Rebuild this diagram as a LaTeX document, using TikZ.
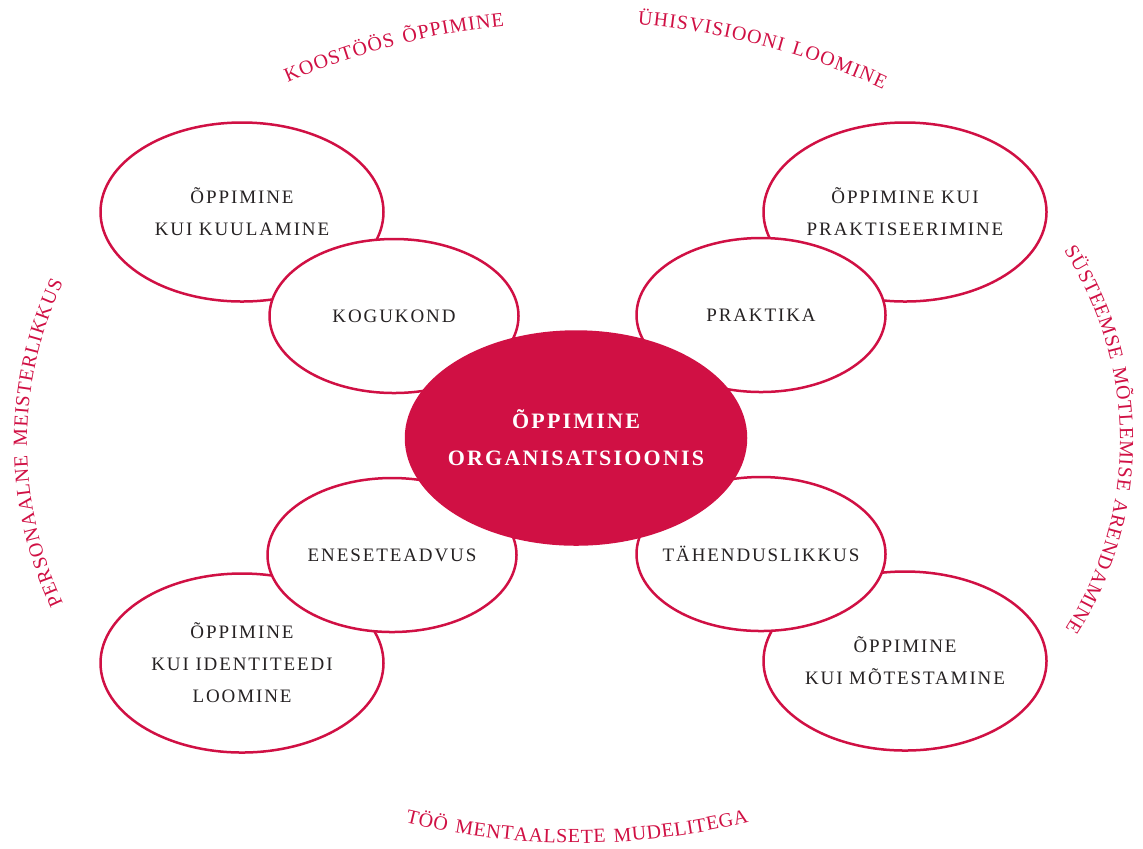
\documentclass[tikz,border=0pt]{standalone}
\usepackage{fontspec}
\setmainfont{Liberation Serif}
\newfontfamily\capsfont[LetterSpace=10]{Liberation Serif}
\usepackage{tikz}
\usetikzlibrary{shapes,decorations.text}
\definecolor{rosso}{RGB}{208,16,68}
\definecolor{ink}{RGB}{38,34,35}

\begin{document}
\begin{tikzpicture}[x=0.5pt, y=0.5pt,
  every node/.style = {ellipse, draw=rosso, line width=1.25pt, fill=white,
    align=center, inner sep=0pt, inner xsep=-10pt, text=ink,
    font=\capsfont\fontsize{9.5}{16}\selectfont},
  outerbubble/.style = {minimum width=141.5pt, minimum height=89.5pt},
  midbubble/.style = {minimum width=124.5pt, minimum height=77pt},
  hub/.style = {fill=rosso, text=white, minimum width=170pt, minimum height=106.5pt,
    font=\capsfont\bfseries\fontsize{11}{18.5}\selectfont},
  arctext/.style = {decorate, decoration={text along path,
    text align={fit to path}, text color=rosso,
    text={|\capsfont\fontsize{10}{12}\selectfont|#1}}}]
  \useasboundingbox (0,0) rectangle (1143,-848);

  % outer ring of bubbles
  \node[outerbubble] (listen) at (242,-212) {ÕPPIMINE\\KUI KUULAMINE};
  \node[outerbubble] (practise) at (905,-212) {ÕPPIMINE KUI\\PRAKTISEERIMINE};
  \node[outerbubble] (identity) at (242,-663) {ÕPPIMINE\\KUI IDENTITEEDI\\LOOMINE};
  \node[outerbubble] (sense) at (905,-661) {ÕPPIMINE\\KUI MÕTESTAMINE};

  % inner ring
  \node[midbubble] (community) at (394,-316) {KOGUKOND};
  \node[midbubble] (practice) at (761,-315) {PRAKTIKA};
  \node[midbubble] (awareness) at (392,-555) {ENESETEADVUS};
  \node[midbubble] (meaning) at (761,-554) {TÄHENDUSLIKKUS};

  \node[hub] (org) at (576,-438) {ÕPPIMINE\\ORGANISATSIOONIS};

  % the five disciplines round the edge
  \path[arctext={KOOSTÖÖS ÕPPIMINE}] (578,-750) ++(113.5:728)
    arc[start angle=113.5, end angle=95.8, radius=728];
  \path[arctext={ÜHISVISIOONI LOOMINE}] (578,-750) ++(85.3:728)
    arc[start angle=85.3, end angle=65.2, radius=728];
  \path[arctext={PERSONAALNE MEISTERLIKKUS}] (400.6,-443) ++(205.4:373.6)
    arc[start angle=205.4, end angle=154.6, radius=373.6];
  \path[arctext={SÜSTEEMSE MÕTLEMISE ARENDAMINE}] (771,-441) ++(33:349)
    arc[start angle=33, end angle=-32.5, radius=349];
  \path[arctext={TÖÖ MENTAALSETE MUDELITEGA}] (577,-128) ++(256.1:715)
    arc[start angle=256.1, end angle=283.9, radius=715];
\end{tikzpicture}
\end{document}
